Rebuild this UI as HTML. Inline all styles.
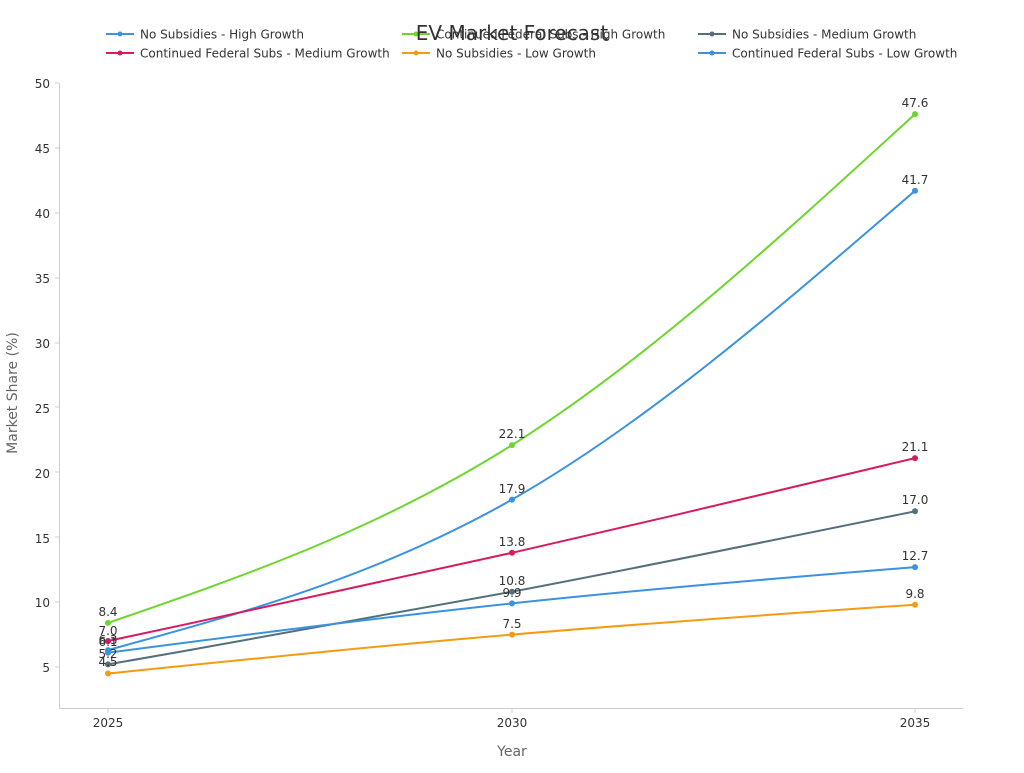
<!DOCTYPE html>
<html><head><meta charset="utf-8"><style>
body{margin:0;background:#fff;}
svg text{font-family:"DejaVu Sans","Liberation Sans",sans-serif;}
</style></head><body>
<svg width="1024" height="768" viewBox="0 0 1024 768" xmlns="http://www.w3.org/2000/svg">
<rect width="1024" height="768" fill="#fff"/>
<!-- axes -->
<line x1="59.5" y1="83" x2="59.5" y2="708.5" stroke="#ccc"/>
<line x1="59" y1="708.5" x2="963" y2="708.5" stroke="#ccc"/>
<g font-size="12" fill="#333" text-anchor="end">
<text x="50" y="88">50</text><text x="50" y="153">45</text><text x="50" y="218">40</text>
<text x="50" y="283">35</text><text x="50" y="348">30</text><text x="50" y="413">25</text>
<text x="50" y="478">20</text><text x="50" y="543">15</text><text x="50" y="607">10</text>
<text x="50" y="672">5</text>
</g>
<g stroke="#ccc"><line x1="55" y1="83" x2="59" y2="83"/><line x1="55" y1="148" x2="59" y2="148"/><line x1="55" y1="213" x2="59" y2="213"/><line x1="55" y1="278" x2="59" y2="278"/><line x1="55" y1="343" x2="59" y2="343"/><line x1="55" y1="407" x2="59" y2="407"/><line x1="55" y1="472" x2="59" y2="472"/><line x1="55" y1="537" x2="59" y2="537"/><line x1="55" y1="602" x2="59" y2="602"/><line x1="55" y1="667" x2="59" y2="667"/>
<line x1="108" y1="708" x2="108" y2="713"/><line x1="512" y1="708" x2="512" y2="713"/><line x1="915" y1="708" x2="915" y2="713"/></g>
<g font-size="12" fill="#333" text-anchor="middle">
<text x="108" y="727">2025</text><text x="512" y="727">2030</text><text x="915" y="727">2035</text>
</g>
<text x="512" y="756" font-size="14" fill="#666" text-anchor="middle">Year</text>
<text transform="translate(17,393) rotate(-90)" font-size="14" fill="#666" text-anchor="middle">Market Share (%)</text>

<!-- series -->
<g fill="none" stroke-width="2">
<path d="M108,622.9 C242.7,576.4 377.3,530 512,445.1 C646.7,360.2 780.3,237.2 915,114.1" stroke="#6dd52e"/>
<path d="M108,650.1 C242.7,613.1 377.3,576.2 512,499.6 C646.7,423 780.3,306.9 915,190.7" stroke="#3a93e0"/>
<path d="M108,641 C242.7,612.1 377.3,583.3 512,552.8 C646.7,522.3 780.3,490.2 915,458.1" stroke="#d81b60"/>
<path d="M108,664.4 C242.7,640.8 377.3,617.2 512,591.7 C646.7,566.2 780.3,538.8 915,511.3" stroke="#546e7a"/>
<path d="M108,652.7 C242.7,635.2 377.3,617.7 512,603.4 C646.7,589.1 780.3,578.1 915,567.1" stroke="#3a93e0"/>
<path d="M108,673.5 C242.7,659.8 377.3,646 512,634.6 C646.7,623.2 780.3,613.9 915,604.7" stroke="#f39c12"/>
</g>
<g>
<g fill="#6dd52e"><circle cx="108" cy="622.9" r="3"/><circle cx="512" cy="445.1" r="3"/><circle cx="915" cy="114.1" r="3"/></g>
<g fill="#3a93e0"><circle cx="108" cy="650.1" r="3"/><circle cx="512" cy="499.6" r="3"/><circle cx="915" cy="190.7" r="3"/>
<circle cx="108" cy="652.7" r="3"/><circle cx="512" cy="603.4" r="3"/><circle cx="915" cy="567.1" r="3"/></g>
<g fill="#d81b60"><circle cx="108" cy="641" r="3"/><circle cx="512" cy="552.8" r="3"/><circle cx="915" cy="458.1" r="3"/></g>
<g fill="#546e7a"><circle cx="108" cy="664.4" r="3"/><circle cx="512" cy="591.7" r="3"/><circle cx="915" cy="511.3" r="3"/></g>
<g fill="#f39c12"><circle cx="108" cy="673.5" r="3"/><circle cx="512" cy="634.6" r="3"/><circle cx="915" cy="604.7" r="3"/></g>
</g>
<g font-size="12" fill="#333" text-anchor="middle">
<text x="108" y="616">8.4</text><text x="512" y="438">22.1</text><text x="915" y="107">47.6</text>
<text x="108" y="644">6.3</text><text x="512" y="493">17.9</text><text x="915" y="184">41.7</text>
<text x="108" y="635">7.0</text><text x="512" y="546">13.8</text><text x="915" y="451">21.1</text>
<text x="108" y="658">5.2</text><text x="512" y="585">10.8</text><text x="915" y="504">17.0</text>
<text x="108" y="646">6.1</text><text x="512" y="597">9.9</text><text x="915" y="560">12.7</text>
<text x="108" y="666">4.5</text><text x="512" y="628">7.5</text><text x="915" y="598">9.8</text>
</g>

<!-- legend -->
<g font-size="12" fill="#333">
<line x1="106" y1="34" x2="134" y2="34" stroke="#3a93e0" stroke-width="2"/><circle cx="120" cy="34" r="2.5" fill="#3a93e0"/>
<text x="140" y="38.5">No Subsidies - High Growth</text>
<line x1="402" y1="34" x2="430" y2="34" stroke="#6dd52e" stroke-width="2"/><circle cx="416" cy="34" r="2.5" fill="#6dd52e"/>
<text x="436" y="38.5">Continued Federal Subs - High Growth</text>
<line x1="698" y1="34" x2="726" y2="34" stroke="#546e7a" stroke-width="2"/><circle cx="712" cy="34" r="2.5" fill="#546e7a"/>
<text x="732" y="38.5">No Subsidies - Medium Growth</text>
<line x1="106" y1="53" x2="134" y2="53" stroke="#d81b60" stroke-width="2"/><circle cx="120" cy="53" r="2.5" fill="#d81b60"/>
<text x="140" y="57.5">Continued Federal Subs - Medium Growth</text>
<line x1="402" y1="53" x2="430" y2="53" stroke="#f39c12" stroke-width="2"/><circle cx="416" cy="53" r="2.5" fill="#f39c12"/>
<text x="436" y="57.5">No Subsidies - Low Growth</text>
<line x1="698" y1="53" x2="726" y2="53" stroke="#3a93e0" stroke-width="2"/><circle cx="712" cy="53" r="2.5" fill="#3a93e0"/>
<text x="732" y="57.5">Continued Federal Subs - Low Growth</text>
</g>
<text x="512" y="40" font-size="20" fill="#333" text-anchor="middle">EV Market Forecast</text>
</svg>
</body></html>
